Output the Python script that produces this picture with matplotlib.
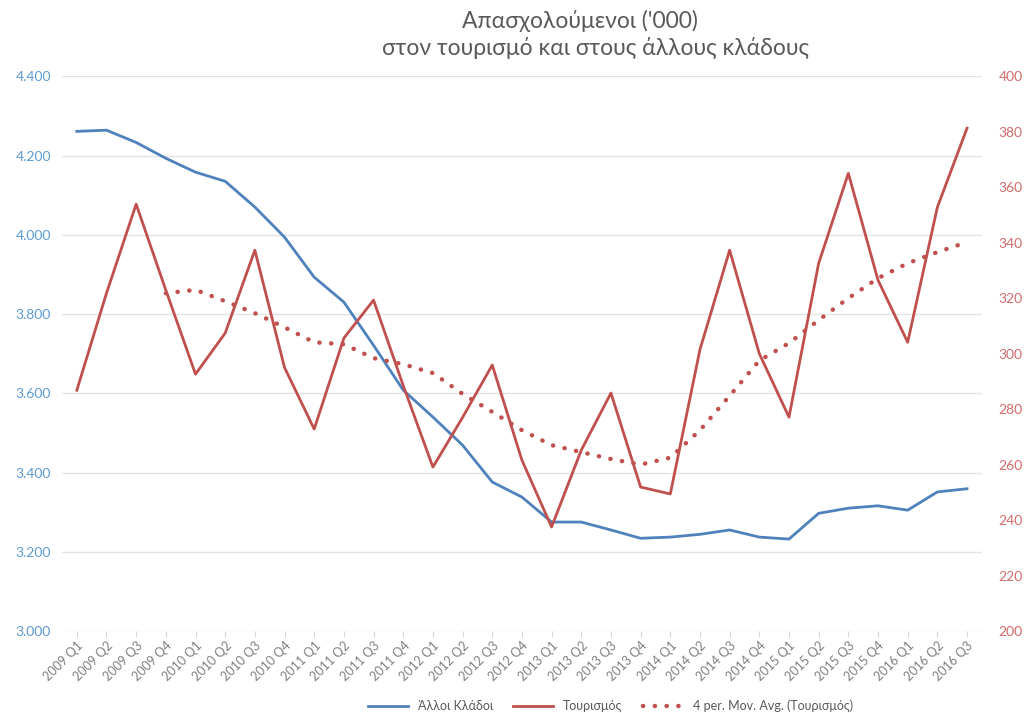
import numpy as np
import matplotlib.pyplot as plt

plt.rcParams['font.family'] = ['Lato', 'DejaVu Sans']

quarters = ['2009 Q1', '2009 Q2', '2009 Q3', '2009 Q4',
            '2010 Q1', '2010 Q2', '2010 Q3', '2010 Q4',
            '2011 Q1', '2011 Q2', '2011 Q3', '2011 Q4',
            '2012 Q1', '2012 Q2', '2012 Q3', '2012 Q4',
            '2013 Q1', '2013 Q2', '2013 Q3', '2013 Q4',
            '2014 Q1', '2014 Q2', '2014 Q3', '2014 Q4',
            '2015 Q1', '2015 Q2', '2015 Q3', '2015 Q4',
            '2016 Q1', '2016 Q2', '2016 Q3']

# left axis: other sectors ('000)
alloi = [4261, 4264, 4233, 4193, 4158, 4135, 4070, 3994,
         3893, 3830, 3721, 3608, 3540, 3469, 3376, 3338,
         3275, 3275, 3255, 3234, 3237, 3244, 3255, 3237,
         3232, 3297, 3310, 3316, 3305, 3351, 3359]

# right axis: tourism ('000)
tourismos = [286.8, 321.8, 353.9, 322.9, 292.6, 307.4, 337.3, 295.0,
             272.8, 305.6, 319.3, 288.5, 259.1, 277.0, 295.9, 261.6,
             237.5, 265.2, 285.8, 251.9, 249.4, 301.5, 337.3, 300.0,
             277.1, 332.6, 365.0, 326.5, 304.1, 352.8, 381.3]

# 4 period moving average of tourism, starts at 2009 Q4
ma_tour = [321.8, 323.0, 318.9, 314.6, 309.5, 304.1, 303.4, 298.4,
           296.2, 293.0, 285.5, 279.0, 272.4, 267.0, 264.5, 262.0,
           260.0, 262.5, 272.4, 284.8, 297.5, 303.8, 312.1, 320.0,
           327.2, 332.6, 336.6, 340.2]

left_ticks = [3000, 3200, 3400, 3600, 3800, 4000, 4200, 4400]
left_labels = ['3.000', '3.200', '3.400', '3.600', '3.800', '4.000', '4.200', '4.400']
right_ticks = [200, 220, 240, 260, 280, 300, 320, 340, 360, 380, 400]

blue = '#4F81BD'
red = '#C0504D'
grey = '#595959'

x = np.arange(len(quarters))

fig = plt.figure(figsize=(10.26, 7.13), dpi=100)
ax = fig.add_axes([0.0604, 0.115, 0.8966, 0.778])
ax2 = ax.twinx()

l1, = ax.plot(x, alloi, color=blue, lw=2.0, label='Άλλοι Κλάδοι')
l2, = ax2.plot(x, tourismos, color=red, lw=2.0, label='Τουρισμός')
l3, = ax2.plot(x[3:], ma_tour, color=red, lw=3.2, linestyle=(0, (0.05, 2.6)),
               dash_capstyle='round', label='4 per. Mov. Avg. (Τουρισμός)')

ax.set_xlim(-0.5, 30.5)
ax.set_ylim(3000, 4400)
ax2.set_ylim(200, 400)
ax.set_yticks(left_ticks)
ax.set_yticklabels(left_labels)
ax2.set_yticks(right_ticks)

ax.set_xticks(x)
ax.set_xticklabels(quarters, rotation=45, ha='right', rotation_mode='anchor')

ax.grid(axis='y', color='#E3E3E3', lw=1.0)
ax.set_axisbelow(True)
for a in (ax, ax2):
    for s in a.spines.values():
        s.set_visible(False)

ax.tick_params(axis='y', length=0, colors='#5B9BD5', labelsize=10, pad=8)
ax.tick_params(axis='x', length=4, color='#D9D9D9', colors='#808080', labelsize=9, pad=2)
ax2.tick_params(axis='y', length=0, colors='#D26B6B', labelsize=10, pad=12)

fig.text(0.565, 0.970, "Απασχολούμενοι ('000)", ha='center', va='center',
         fontsize=16.5, color=grey)
fig.text(0.58, 0.932, "στον τουρισμό και στους άλλους κλάδους", ha='center', va='center',
         fontsize=16.5, color=grey)

fig.legend(handles=[l1, l2, l3], loc='center', bbox_to_anchor=(0.595, 0.01),
           ncol=3, frameon=False, fontsize=9, handlelength=3.2,
           columnspacing=1.6, labelcolor=grey)

fig.savefig('out.png', dpi=100)
